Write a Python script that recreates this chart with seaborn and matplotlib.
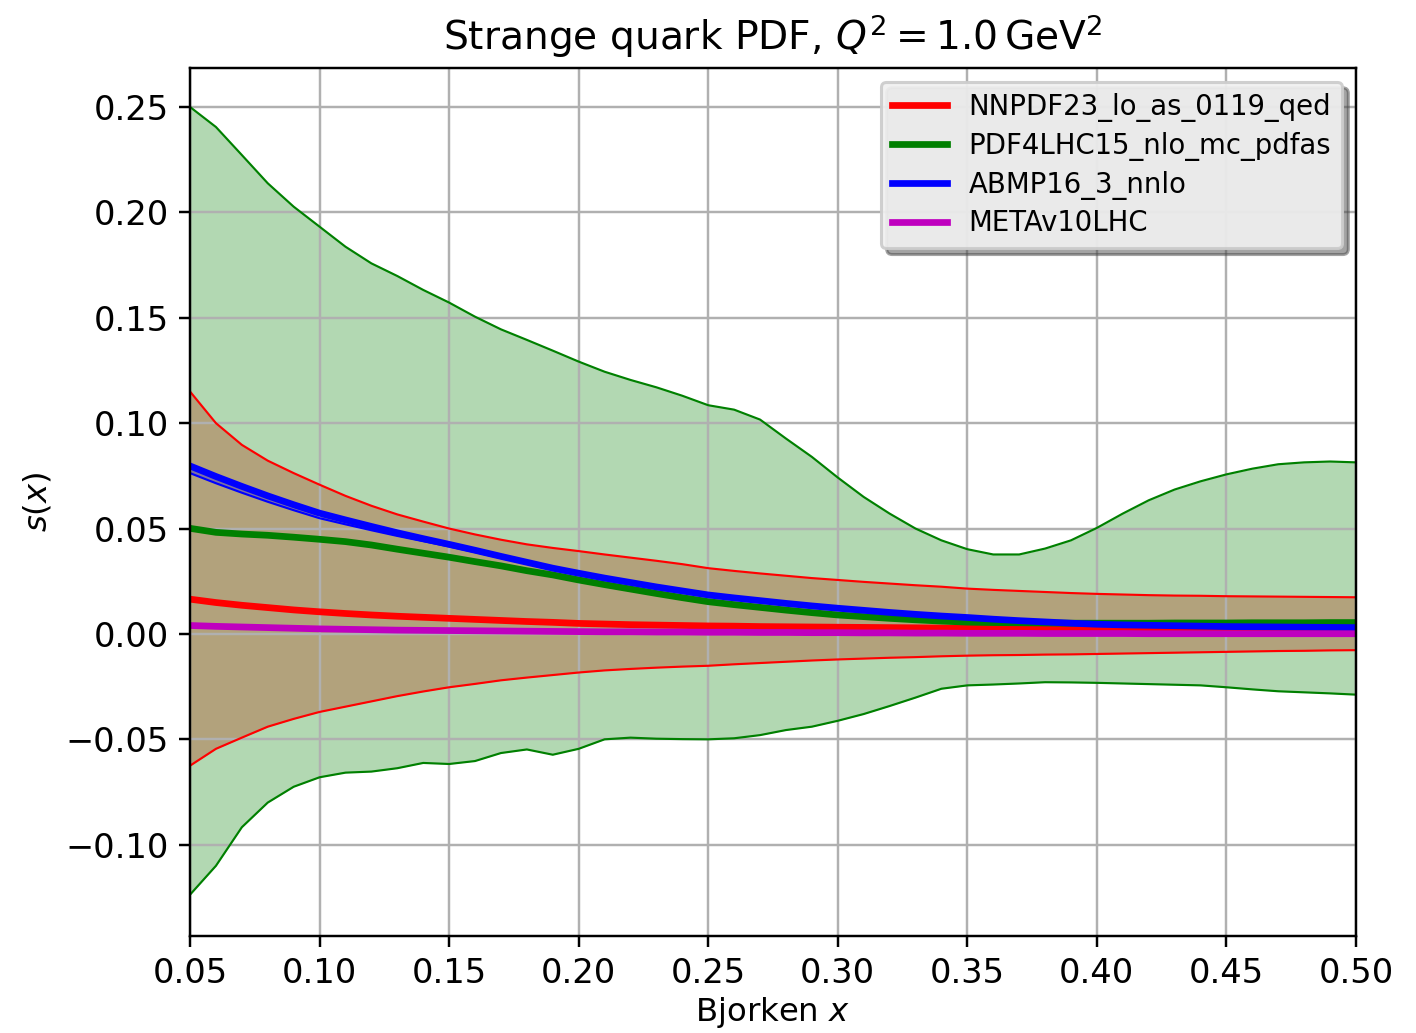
import matplotlib
matplotlib.use("Agg")
import matplotlib.pyplot as plt
import seaborn as sns

# Bjorken x grid
x = [0.05, 0.06, 0.07, 0.08, 0.09, 0.10, 0.11, 0.12, 0.13, 0.14,
     0.15, 0.16, 0.17, 0.18, 0.19, 0.20, 0.21, 0.22, 0.23, 0.24,
     0.25, 0.26, 0.27, 0.28, 0.29, 0.30, 0.31, 0.32, 0.33, 0.34,
     0.35, 0.36, 0.37, 0.38, 0.39, 0.40, 0.41, 0.42, 0.43, 0.44,
     0.45, 0.46, 0.47, 0.48, 0.49, 0.50]

# NNPDF23_lo_as_0119_qed
nnpdf_c = [0.0165, 0.0149, 0.0136, 0.0125, 0.0114, 0.0105, 0.0097, 0.0090, 0.0084, 0.0079,
           0.0074, 0.0069, 0.0064, 0.0059, 0.0055, 0.0050, 0.0047, 0.0044, 0.0042, 0.0040,
           0.0038, 0.0037, 0.0035, 0.0034, 0.0033, 0.0032, 0.0031, 0.0030, 0.0029, 0.0028,
           0.0027, 0.0026, 0.0025, 0.0024, 0.0023, 0.0022, 0.0022, 0.0021, 0.0021, 0.0020,
           0.0020, 0.0019, 0.0019, 0.0019, 0.0018, 0.0018]
nnpdf_hi = [0.1150, 0.1000, 0.0897, 0.0822, 0.0763, 0.0708, 0.0655, 0.0608, 0.0567, 0.0533,
            0.0500, 0.0472, 0.0447, 0.0425, 0.0408, 0.0393, 0.0377, 0.0362, 0.0347, 0.0331,
            0.0312, 0.0299, 0.0287, 0.0276, 0.0265, 0.0256, 0.0247, 0.0239, 0.0231, 0.0224,
            0.0215, 0.0209, 0.0204, 0.0199, 0.0194, 0.0190, 0.0187, 0.0184, 0.0182, 0.0181,
            0.0179, 0.0178, 0.0177, 0.0176, 0.0175, 0.0174]
nnpdf_lo = [-0.0625, -0.0545, -0.0492, -0.0440, -0.0403, -0.0370, -0.0345, -0.0320, -0.0295, -0.0273,
            -0.0253, -0.0237, -0.0220, -0.0207, -0.0195, -0.0183, -0.0173, -0.0166, -0.0160, -0.0155,
            -0.0151, -0.0144, -0.0138, -0.0132, -0.0126, -0.0121, -0.0117, -0.0113, -0.0110, -0.0106,
            -0.0103, -0.0101, -0.0100, -0.0098, -0.0097, -0.0095, -0.0093, -0.0091, -0.0089, -0.0087,
            -0.0085, -0.0083, -0.0081, -0.0080, -0.0078, -0.0077]

# PDF4LHC15_nlo_mc_pdfas
pdf4lhc_c = [0.0501, 0.0482, 0.0474, 0.0468, 0.0459, 0.0449, 0.0438, 0.0422, 0.0402, 0.0383,
             0.0364, 0.0343, 0.0323, 0.0300, 0.0280, 0.0256, 0.0234, 0.0213, 0.0192, 0.0172,
             0.0153, 0.0139, 0.0126, 0.0113, 0.0101, 0.0090, 0.0082, 0.0074, 0.0067, 0.0061,
             0.0056, 0.0054, 0.0053, 0.0052, 0.0051, 0.0051, 0.0051, 0.0051, 0.0052, 0.0052,
             0.0052, 0.0053, 0.0053, 0.0053, 0.0054, 0.0054]
pdf4lhc_hi = [0.2500, 0.2405, 0.2272, 0.2138, 0.2027, 0.1932, 0.1837, 0.1758, 0.1698, 0.1632,
              0.1572, 0.1505, 0.1445, 0.1395, 0.1344, 0.1292, 0.1244, 0.1205, 0.1170, 0.1130,
              0.1085, 0.1064, 0.1017, 0.0927, 0.0840, 0.0742, 0.0650, 0.0571, 0.0500, 0.0444,
              0.0402, 0.0377, 0.0377, 0.0405, 0.0444, 0.0503, 0.0571, 0.0634, 0.0685, 0.0724,
              0.0757, 0.0784, 0.0805, 0.0814, 0.0818, 0.0814]
pdf4lhc_lo = [-0.1237, -0.1100, -0.0917, -0.0800, -0.0725, -0.0680, -0.0658, -0.0653, -0.0637, -0.0612,
              -0.0617, -0.0603, -0.0565, -0.0548, -0.0573, -0.0545, -0.0500, -0.0492, -0.0497, -0.0499,
              -0.0500, -0.0495, -0.0480, -0.0456, -0.0440, -0.0412, -0.0380, -0.0342, -0.0302, -0.0260,
              -0.0244, -0.0240, -0.0235, -0.0229, -0.0230, -0.0232, -0.0235, -0.0238, -0.0241, -0.0244,
              -0.0253, -0.0263, -0.0272, -0.0277, -0.0282, -0.0288]

# ABMP16_3_nnlo
abmp_c = [0.0797, 0.0747, 0.0700, 0.0655, 0.0613, 0.0573, 0.0541, 0.0510, 0.0480, 0.0452,
          0.0425, 0.0397, 0.0368, 0.0340, 0.0312, 0.0288, 0.0265, 0.0244, 0.0223, 0.0204,
          0.0185, 0.0171, 0.0158, 0.0145, 0.0133, 0.0122, 0.0112, 0.0102, 0.0093, 0.0085,
          0.0078, 0.0070, 0.0063, 0.0057, 0.0051, 0.0046, 0.0043, 0.0041, 0.0039, 0.0037,
          0.0035, 0.0034, 0.0033, 0.0032, 0.0031, 0.0030]
abmp_hi = [0.0801, 0.0751, 0.0704, 0.0659, 0.0617, 0.0577, 0.0545, 0.0514, 0.0484, 0.0456,
           0.0429, 0.0401, 0.0372, 0.0344, 0.0316, 0.0292, 0.0269, 0.0248, 0.0227, 0.0208,
           0.0189, 0.0175, 0.0162, 0.0149, 0.0137, 0.0126, 0.0116, 0.0106, 0.0097, 0.0089,
           0.0082, 0.0074, 0.0067, 0.0061, 0.0055, 0.0050, 0.0047, 0.0045, 0.0043, 0.0041,
           0.0039, 0.0038, 0.0037, 0.0036, 0.0035, 0.0034]
abmp_lo = [0.0763, 0.0715, 0.0670, 0.0627, 0.0587, 0.0549, 0.0520, 0.0492, 0.0465, 0.0440,
           0.0415, 0.0388, 0.0360, 0.0333, 0.0305, 0.0282, 0.0259, 0.0238, 0.0218, 0.0199,
           0.0181, 0.0167, 0.0154, 0.0141, 0.0130, 0.0119, 0.0109, 0.0099, 0.0090, 0.0082,
           0.0075, 0.0067, 0.0060, 0.0054, 0.0048, 0.0043, 0.0040, 0.0038, 0.0036, 0.0034,
           0.0032, 0.0031, 0.0030, 0.0029, 0.0028, 0.0027]

# METAv10LHC
meta_c = [0.0040, 0.0036, 0.0033, 0.0030, 0.0027, 0.0024, 0.0022, 0.0020, 0.0018, 0.0017,
          0.0016, 0.0015, 0.0014, 0.0013, 0.0012, 0.0011, 0.0010, 0.0010, 0.0009, 0.0009,
          0.0008, 0.0008, 0.0007, 0.0007, 0.0006, 0.0006, 0.0005, 0.0005, 0.0004, 0.0004,
          0.0003, 0.0003, 0.0003, 0.0002, 0.0002, 0.0002, 0.0002, 0.0001, 0.0001, 0.0001,
          0.0001, 0.0001, 0.0001, 0.0001, 0.0001, 0.0001]

names = ["NNPDF23_lo_as_0119_qed", "PDF4LHC15_nlo_mc_pdfas", "ABMP16_3_nnlo", "METAv10LHC"]
colors = ["r", "g", "b", "m"]
centrals = [nnpdf_c, pdf4lhc_c, abmp_c, meta_c]
bands = [(nnpdf_lo, nnpdf_hi), (pdf4lhc_lo, pdf4lhc_hi), (abmp_lo, abmp_hi), None]

fig, ax = plt.subplots(figsize=(1416 / 220, 1033 / 220), dpi=220)
fig.subplots_adjust(left=0.1342, right=0.9576, top=0.9342, bottom=0.0939)

# error bands first, then their edges, then the central values
for band, col in zip(bands, colors):
    if band is not None:
        ax.fill_between(x, band[0], band[1], color=col, alpha=0.3, linewidth=0)
for band, col in zip(bands, colors):
    if band is not None:
        ax.plot(x, band[0], color=col, lw=0.7)
        ax.plot(x, band[1], color=col, lw=0.7)
for name, col, yc in zip(names, colors, centrals):
    sns.lineplot(x=x, y=yc, color=col, lw=2.2, label=name, ax=ax)

ax.set_xlim(0.05, 0.50)
ax.set_ylim(-0.1433, 0.2685)
ax.set_xticks([0.05, 0.10, 0.15, 0.20, 0.25, 0.30, 0.35, 0.40, 0.45, 0.50])
ax.tick_params(labelsize=11)
ax.grid(True)
ax.set_title(r"Strange quark PDF, $Q^2 = 1.0\,\mathrm{GeV}^2$", fontsize=12.8)
ax.set_xlabel(r"Bjorken $x$", fontsize=10.6, labelpad=1.5)
ax.set_ylabel(r"$s(x)$", fontsize=10.6)
leg = ax.legend(loc="upper right", shadow=True, fancybox=True, fontsize=9.0,
                handlelength=2.0, labelspacing=0.36, facecolor="#f0f0f0",
                framealpha=0.93)

fig.savefig("out.png", dpi=220)
